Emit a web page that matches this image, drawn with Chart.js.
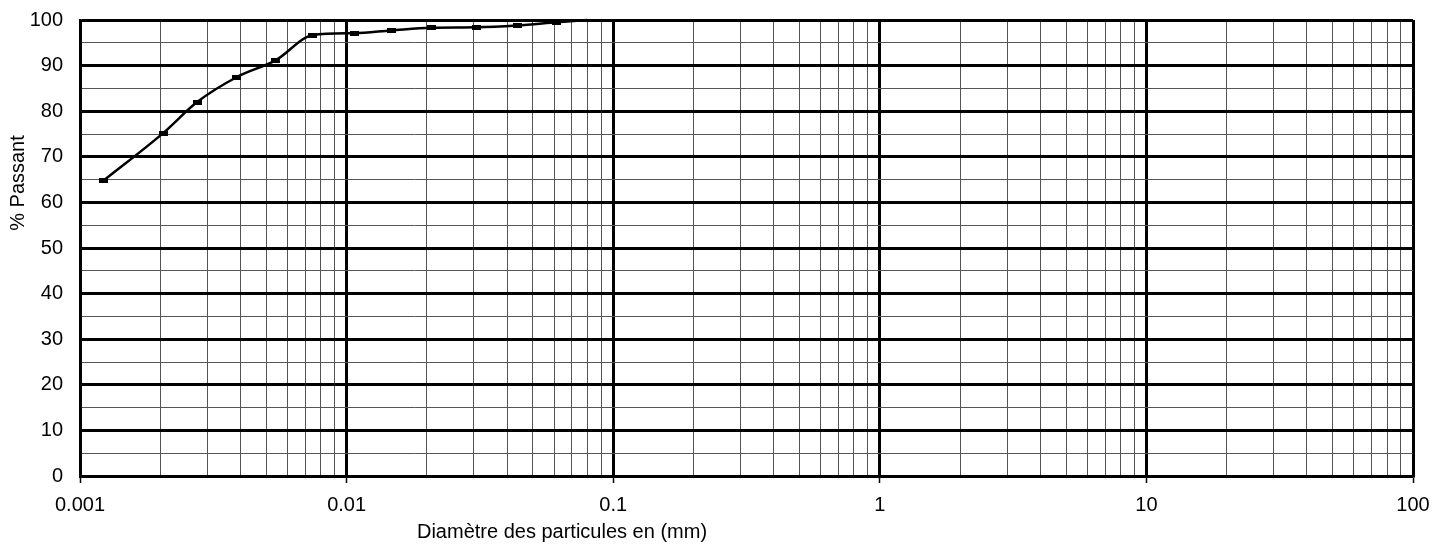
<!DOCTYPE html>
<html>
<head>
<meta charset="utf-8">
<script src="https://cdn.jsdelivr.net/npm/chart.js@4/dist/chart.umd.min.js"></script>
<style>
  html, body { margin: 0; padding: 0; background: #fff; }
  #wrap { width: 1436px; height: 546px; }
</style>
</head>
<body>
<div id="wrap"><canvas id="chart" width="1436" height="546"></canvas></div>
<script>
// diamètres (mm) et % passant
const diametres = [0.00122, 0.00205, 0.00275, 0.00388, 0.00543, 0.00748, 0.01067, 0.01468, 0.02074, 0.0308, 0.0436, 0.0615, 0.08];
const passant = [64.7, 75.2, 82.0, 87.5, 91.2, 96.7, 97.1, 97.7, 98.3, 98.4, 98.8, 99.5, 100];
const decades = [0.001, 0.01, 0.1, 1, 10, 100];
const xTickLabels = ['0.001', '0.01', '0.1', '1', '10', '100'];
const titreX = 'Diamètre des particules en (mm)';
const titreY = '% Passant';

const famille = '"Liberation Sans", Arial, sans-serif';
const police = { family: famille, size: 20 };

// petit rectangle noir pour les points
const marqueur = document.createElement('canvas');
marqueur.width = 9;
marqueur.height = 5;
marqueur.getContext('2d').fillRect(0, 0, 9, 5);

function estDecade(v) {
    return decades.some(d => Math.abs(v / d - 1) < 1e-6);
}

// graduations log : 1..9 par décade
function ticksLog() {
    const t = [];
    for (let i = 0; i < decades.length - 1; i++) {
        for (let m = 1; m < 10; m++) t.push({ value: +(m * decades[i]).toPrecision(3) });
    }
    t.push({ value: decades[decades.length - 1] });
    return t;
}

// titres des axes, placés comme sur l'original
const titres = {
    id: 'titres',
    afterDraw(chart) {
        const ctx = chart.ctx;
        ctx.save();
        ctx.fillStyle = '#000';
        ctx.font = '20px ' + famille;
        ctx.textAlign = 'center';
        ctx.textBaseline = 'middle';
        ctx.fillText(titreX, 562, 532);
        ctx.translate(18, 183);
        ctx.rotate(-Math.PI / 2);
        ctx.fillText(titreY, 0, 0);
        ctx.restore();
    }
};

const points = diametres.map((x, i) => ({ x: x, y: passant[i] }));

new Chart(document.getElementById('chart'), {
    type: 'line',
    data: {
        datasets: [{
            data: points,
            borderColor: '#000',
            borderWidth: 2.5,
            cubicInterpolationMode: 'monotone',
            pointStyle: marqueur,
            pointRadius: diametres.map((x, i) => i === diametres.length - 1 ? 0 : 3),
            pointHoverRadius: 3,
            clip: false
        }]
    },
    plugins: [titres],
    options: {
        responsive: false,
        animation: false,
        events: [],
        layout: { padding: { left: 0, right: 23, top: 20, bottom: 0 } },
        plugins: { legend: { display: false }, tooltip: { enabled: false } },
        scales: {
            x: {
                type: 'logarithmic',
                min: 0.001,
                max: 100,
                afterBuildTicks: scale => { scale.ticks = ticksLog(); },
                afterFit: scale => {
                    scale.height = 70;
                    scale.paddingLeft = 0;
                    scale.paddingRight = 0;
                },
                grid: {
                    color: ctx => (ctx.tick && estDecade(ctx.tick.value)) ? '#000' : '#555',
                    lineWidth: ctx => (ctx.tick && estDecade(ctx.tick.value)) ? 3 : 1,
                    tickLength: 7,
                    tickColor: ctx => (ctx.tick && estDecade(ctx.tick.value)) ? '#000' : 'rgba(0,0,0,0)',
                    tickWidth: 1.5
                },
                border: { color: '#000', width: 2.5 },
                ticks: {
                    autoSkip: false,
                    maxRotation: 0,
                    padding: 10,
                    color: '#000',
                    font: police,
                    callback: function (v) {
                        const i = decades.findIndex(d => Math.abs(v / d - 1) < 1e-6);
                        return i >= 0 ? xTickLabels[i] : '';
                    }
                }
            },
            y: {
                min: 0,
                max: 100,
                afterFit: scale => {
                    scale.width = 80;
                    scale.paddingTop = 0;
                    scale.paddingBottom = 0;
                },
                grid: {
                    color: ctx => (ctx.tick && ctx.tick.value % 10 === 0) ? '#000' : '#555',
                    lineWidth: ctx => (ctx.tick && ctx.tick.value % 10 === 0) ? 3 : 1,
                    drawTicks: false
                },
                border: { color: '#000', width: 2.5 },
                ticks: {
                    stepSize: 5,
                    autoSkip: false,
                    padding: 17,
                    color: '#000',
                    font: police,
                    callback: v => v % 10 === 0 ? v : ''
                }
            }
        }
    }
});
</script>
</body>
</html>
